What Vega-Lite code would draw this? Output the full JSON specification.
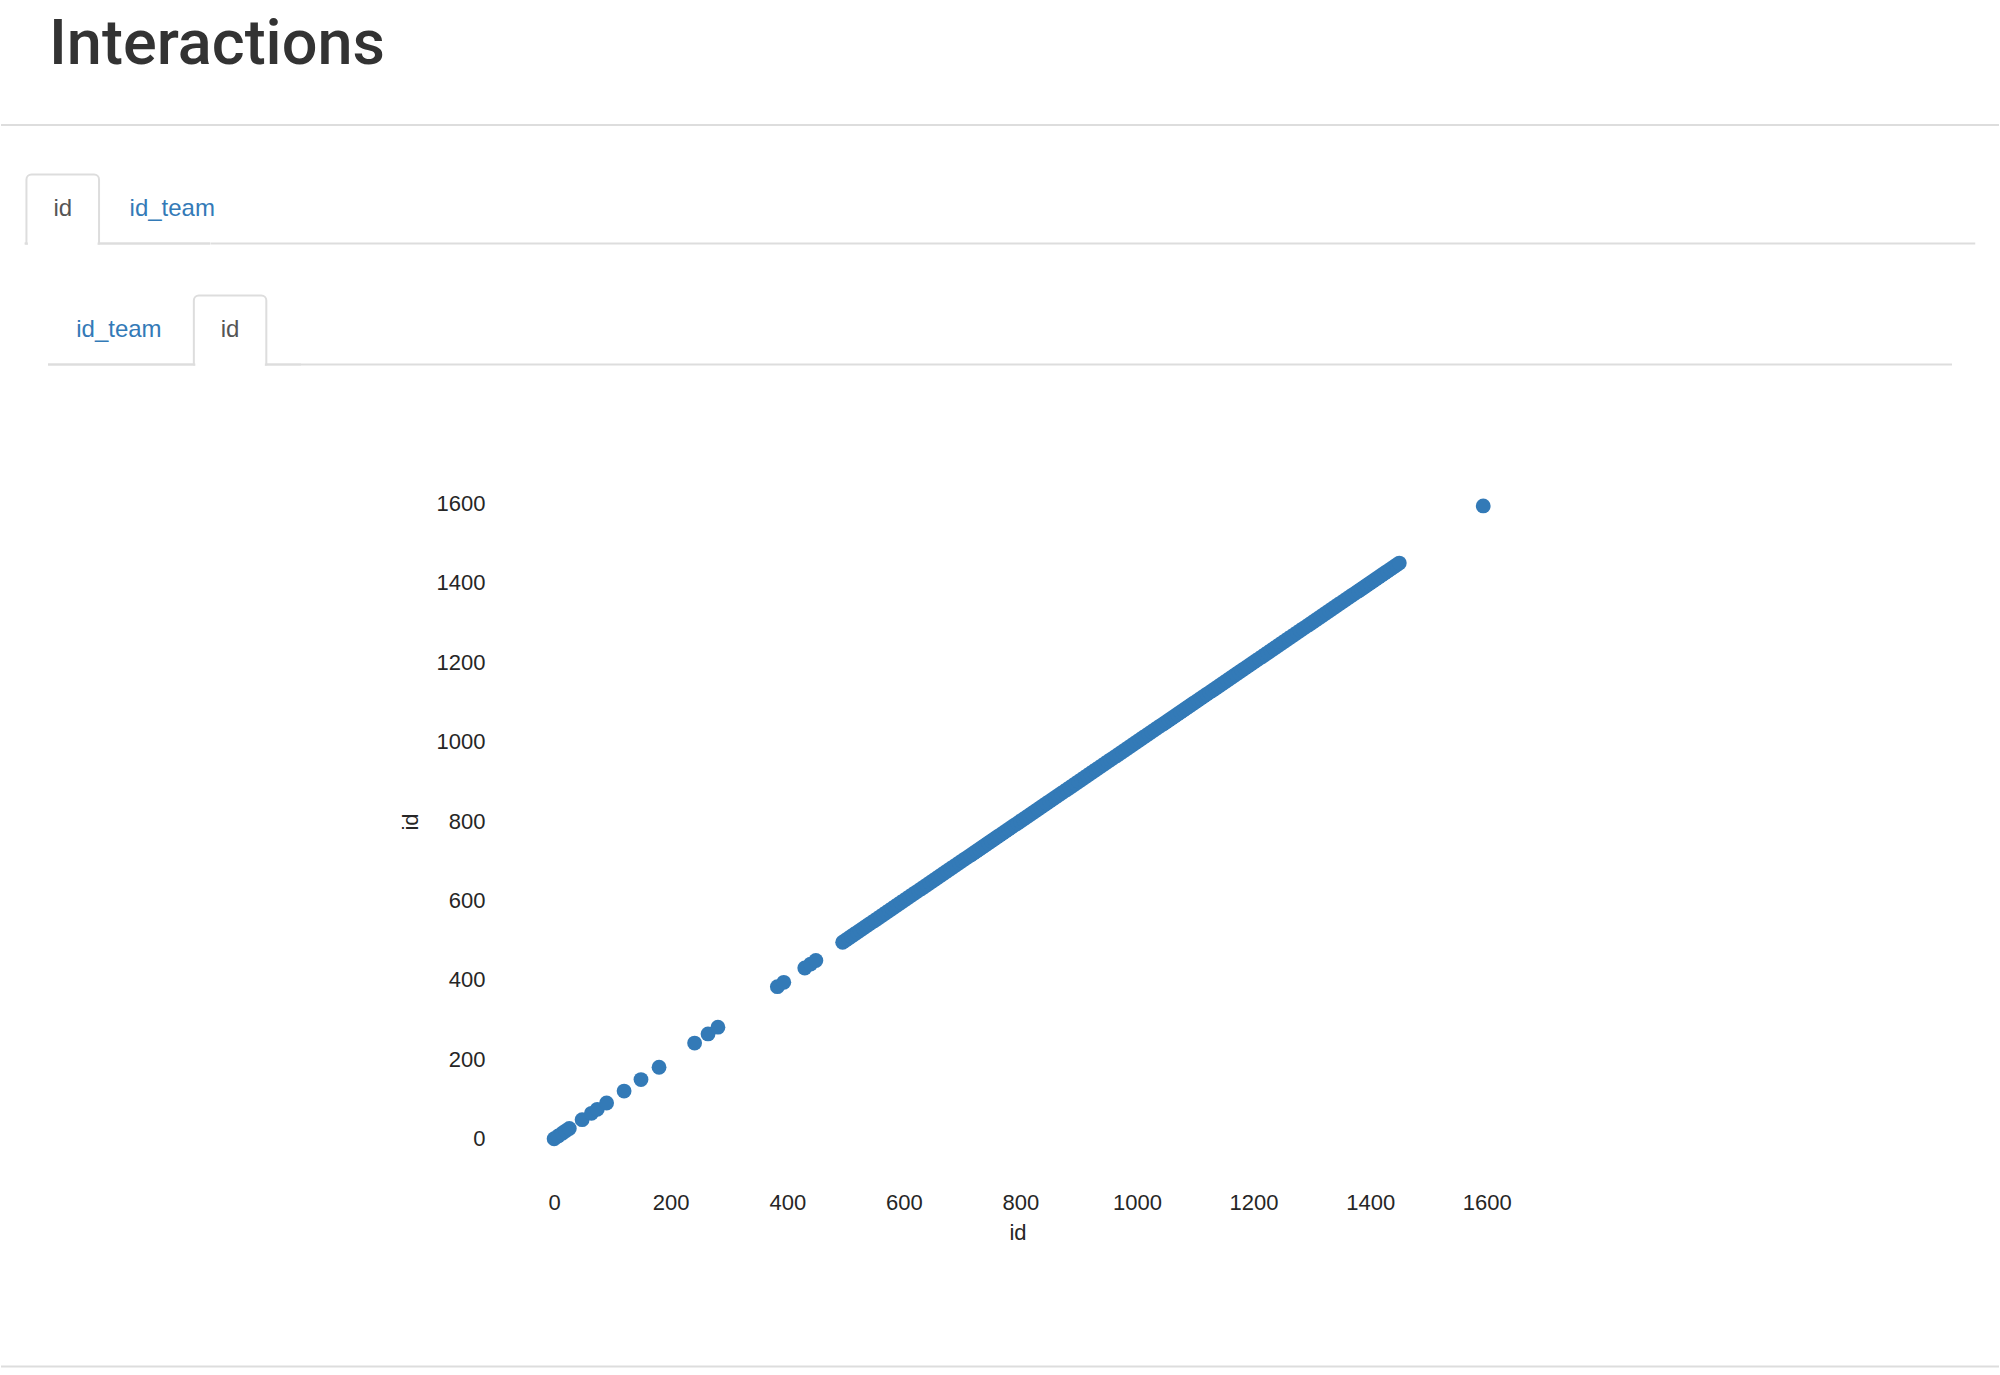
{
  "$schema": "https://vega.github.io/schema/vega-lite/v6.json",
  "background": "white",
  "padding": {"left": 0, "top": 13.5, "right": 0, "bottom": 0},
  "spacing": 47,
  "center": true,
  "config": {
    "view": {"stroke": null},
    "font": "Liberation Sans",
    "text": {"font": "Liberation Sans"},
    "title": {"font": "Liberation Sans"},
    "axis": {"labelFont": "Liberation Sans", "titleFont": "Liberation Sans"}
  },
  "vconcat": [
    {
      "width": 1998,
      "height": 48.5,
      "title": {"text": "Interactions", "anchor": "start", "frame": "group", "dx": 48, "offset": 0, "fontSize": 63, "font": "Roboto", "fontWeight": 500, "color": "#333333"},
      "data": {"values": [{"edge": 0}]},
      "mark": {"type": "rule", "color": "#dddddd", "strokeWidth": 2},
      "encoding": {"y": {"field": "edge", "type": "quantitative", "scale": {"domain": [0, 1]}, "axis": null}}
    },
    {
      "hconcat": [
        {
          "width": 185.5,
          "height": 69,
          "data": {"values": [{"tab": "id", "active": true, "edge": 0}, {"tab": "id_team", "active": false, "edge": 0}]},
          "layer": [
            {"mark": {"type": "rule", "color": "#dddddd", "strokeWidth": 2},
             "encoding": {"y": {"field": "edge", "type": "quantitative", "scale": {"domain": [0, 1]}, "axis": null}}},
            {"transform": [{"filter": "datum.active"}],
             "mark": {"type": "rect", "fill": "white", "stroke": "#dddddd", "strokeWidth": 2, "cornerRadiusTopLeft": 5, "cornerRadiusTopRight": 5},
             "encoding": {"x": {"field": "tab", "type": "nominal", "scale": {"type": "band", "domain": ["id", "id_team"], "paddingInner": 0.337, "paddingOuter": 0.0155}, "axis": null}}},
            {"transform": [{"filter": "datum.active"}],
             "mark": {"type": "rect", "fill": "white", "width": {"band": 0.96}},
             "encoding": {"x": {"field": "tab", "type": "nominal", "axis": null},
                          "y": {"datum": -0.05, "type": "quantitative", "axis": null}, "y2": {"datum": 0.05}}},
            {"mark": {"type": "text", "fontSize": 24, "font": "Liberation Sans"},
             "encoding": {"x": {"field": "tab", "type": "nominal", "axis": null},
                          "text": {"field": "tab"}, "color": {"condition": {"test": "datum.active", "value": "#555555"}, "value": "#337ab7"}}}
          ]
        },
        {
          "width": 1764.5,
          "height": 69,
          "data": {"values": [{"edge": 0}]},
          "mark": {"type": "rule", "color": "#dddddd", "strokeWidth": 2},
          "encoding": {"y": {"field": "edge", "type": "quantitative", "scale": {"domain": [0, 1]}, "axis": null}}
        }
      ],
      "spacing": 0,
      "bounds": "flush"
    },
    {
      "hconcat": [
        {
          "width": 253,
          "height": 69,
          "data": {"values": [{"tab": "id_team", "active": false, "edge": 0}, {"tab": "id", "active": true, "edge": 0}]},
          "layer": [
            {"mark": {"type": "rule", "color": "#dddddd", "strokeWidth": 2},
             "encoding": {"y": {"field": "edge", "type": "quantitative", "scale": {"domain": [0, 1]}, "axis": null}}},
            {"transform": [{"filter": "datum.active"}],
             "mark": {"type": "rect", "fill": "white", "stroke": "#dddddd", "strokeWidth": 2, "cornerRadiusTopLeft": 5, "cornerRadiusTopRight": 5},
             "encoding": {"x": {"field": "tab", "type": "nominal", "scale": {"type": "band", "domain": ["id_team", "id"], "paddingInner": 0.348, "paddingOuter": 0.312}, "axis": null}}},
            {"transform": [{"filter": "datum.active"}],
             "mark": {"type": "rect", "fill": "white", "width": {"band": 0.96}},
             "encoding": {"x": {"field": "tab", "type": "nominal", "axis": null},
                          "y": {"datum": -0.05, "type": "quantitative", "axis": null}, "y2": {"datum": 0.05}}},
            {"mark": {"type": "text", "fontSize": 24, "font": "Liberation Sans"},
             "encoding": {"x": {"field": "tab", "type": "nominal", "axis": null},
                          "text": {"field": "tab"}, "color": {"condition": {"test": "datum.active", "value": "#555555"}, "value": "#337ab7"}}}
          ]
        },
        {
          "width": 1651,
          "height": 69,
          "data": {"values": [{"edge": 0}]},
          "mark": {"type": "rule", "color": "#dddddd", "strokeWidth": 2},
          "encoding": {"y": {"field": "edge", "type": "quantitative", "scale": {"domain": [0, 1]}, "axis": null}}
        }
      ],
      "spacing": 0,
      "bounds": "flush"
    },
    {
      "width": 1022,
      "height": 755,
      "data": {"values": [
        {"id": 0}, {"id": 7}, {"id": 14}, {"id": 20}, {"id": 26}, {"id": 48}, {"id": 64}, {"id": 74}, {"id": 90}, {"id": 120}, {"id": 149}, {"id": 180}, {"id": 241}, {"id": 264}, {"id": 281}, {"id": 383}, {"id": 394}, {"id": 430}, {"id": 440}, {"id": 449},
        {"id": 495}, {"id": 500}, {"id": 505}, {"id": 510}, {"id": 515}, {"id": 520}, {"id": 525}, {"id": 530}, {"id": 535}, {"id": 540}, {"id": 545}, {"id": 550}, {"id": 555}, {"id": 560}, {"id": 565}, {"id": 570}, {"id": 575}, {"id": 580}, {"id": 585}, {"id": 590}, {"id": 595},
        {"id": 600}, {"id": 605}, {"id": 610}, {"id": 615}, {"id": 620}, {"id": 625}, {"id": 630}, {"id": 635}, {"id": 640}, {"id": 645}, {"id": 650}, {"id": 655}, {"id": 660}, {"id": 665}, {"id": 670}, {"id": 675}, {"id": 680}, {"id": 685}, {"id": 690}, {"id": 695},
        {"id": 700}, {"id": 705}, {"id": 710}, {"id": 715}, {"id": 720}, {"id": 725}, {"id": 730}, {"id": 735}, {"id": 740}, {"id": 745}, {"id": 750}, {"id": 755}, {"id": 760}, {"id": 765}, {"id": 770}, {"id": 775}, {"id": 780}, {"id": 785}, {"id": 790}, {"id": 795},
        {"id": 800}, {"id": 805}, {"id": 810}, {"id": 815}, {"id": 820}, {"id": 825}, {"id": 830}, {"id": 835}, {"id": 840}, {"id": 845}, {"id": 850}, {"id": 855}, {"id": 860}, {"id": 865}, {"id": 870}, {"id": 875}, {"id": 880}, {"id": 885}, {"id": 890}, {"id": 895},
        {"id": 900}, {"id": 905}, {"id": 910}, {"id": 915}, {"id": 920}, {"id": 925}, {"id": 930}, {"id": 935}, {"id": 940}, {"id": 945}, {"id": 950}, {"id": 955}, {"id": 960}, {"id": 965}, {"id": 970}, {"id": 975}, {"id": 980}, {"id": 985}, {"id": 990}, {"id": 995},
        {"id": 1000}, {"id": 1005}, {"id": 1010}, {"id": 1015}, {"id": 1020}, {"id": 1025}, {"id": 1030}, {"id": 1035}, {"id": 1040}, {"id": 1045}, {"id": 1050}, {"id": 1055}, {"id": 1060}, {"id": 1065}, {"id": 1070}, {"id": 1075}, {"id": 1080}, {"id": 1085}, {"id": 1090}, {"id": 1095},
        {"id": 1100}, {"id": 1105}, {"id": 1110}, {"id": 1115}, {"id": 1120}, {"id": 1125}, {"id": 1130}, {"id": 1135}, {"id": 1140}, {"id": 1145}, {"id": 1150}, {"id": 1155}, {"id": 1160}, {"id": 1165}, {"id": 1170}, {"id": 1175}, {"id": 1180}, {"id": 1185}, {"id": 1190}, {"id": 1195},
        {"id": 1200}, {"id": 1205}, {"id": 1210}, {"id": 1215}, {"id": 1220}, {"id": 1225}, {"id": 1230}, {"id": 1235}, {"id": 1240}, {"id": 1245}, {"id": 1250}, {"id": 1255}, {"id": 1260}, {"id": 1265}, {"id": 1270}, {"id": 1275}, {"id": 1280}, {"id": 1285}, {"id": 1290}, {"id": 1295},
        {"id": 1300}, {"id": 1305}, {"id": 1310}, {"id": 1315}, {"id": 1320}, {"id": 1325}, {"id": 1330}, {"id": 1335}, {"id": 1340}, {"id": 1345}, {"id": 1350}, {"id": 1355}, {"id": 1360}, {"id": 1365}, {"id": 1370}, {"id": 1375}, {"id": 1380}, {"id": 1385}, {"id": 1390}, {"id": 1395},
        {"id": 1400}, {"id": 1405}, {"id": 1410}, {"id": 1415}, {"id": 1420}, {"id": 1425}, {"id": 1430}, {"id": 1435}, {"id": 1440}, {"id": 1445}, {"id": 1450},
        {"id": 1594}
      ]},
      "mark": {"type": "circle", "size": 220, "color": "#337ab7", "opacity": 1},
      "encoding": {
        "x": {"field": "id", "type": "quantitative",
              "scale": {"domain": [-110.9, 1642.5], "nice": false, "zero": false},
              "axis": {"title": "id", "values": [0, 200, 400, 600, 800, 1000, 1200, 1400, 1600], "format": "d", "grid": false, "domain": false, "ticks": false,
                       "labelPadding": 21.5, "labelFontSize": 22, "labelColor": "#262626", "titleFontSize": 22, "titleFontWeight": "normal", "titleColor": "#262626", "titlePadding": 9, "titleX": 528}},
        "y": {"field": "id", "type": "quantitative",
              "scale": {"domain": [-80, 1821.8], "nice": false, "zero": false},
              "axis": {"title": "id", "values": [0, 200, 400, 600, 800, 1000, 1200, 1400, 1600], "format": "d", "grid": false, "domain": false, "ticks": false, "offset": -18,
                       "labelPadding": 22.5, "labelFontSize": 22, "labelColor": "#262626", "titleFontSize": 22, "titleFontWeight": "normal", "titleColor": "#262626", "titlePadding": 14, "titleY": 406}}
      }
    },
    {
      "width": 1998,
      "height": 76,
      "data": {"values": [{"edge": 0}]},
      "mark": {"type": "rule", "color": "#dddddd", "strokeWidth": 2},
      "encoding": {"y": {"field": "edge", "type": "quantitative", "scale": {"domain": [0, 1]}, "axis": null}}
    }
  ]
}
